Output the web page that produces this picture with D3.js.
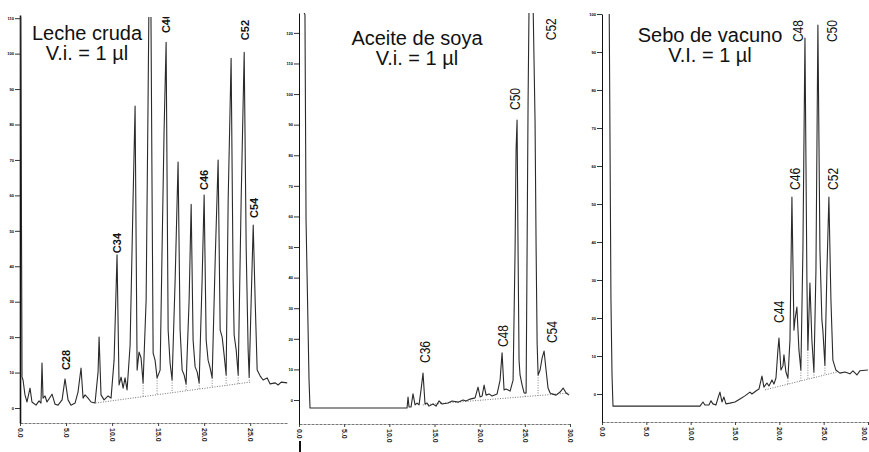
<!DOCTYPE html>
<meta charset="utf-8">
<script src="https://d3js.org/d3.v7.min.js"></script>
<style>
  body { margin: 0; background: #fff; }
  svg { display: block; font-family: "Liberation Sans", Arial, sans-serif; }
</style>
<body>
<div id="chart"></div>
<script>

// ---- data (retention time in min, detector response) ----

// Leche cruda
var lecheTrace = [[0,150],[0.11,89.7],[0.22,8.7],[0.33,7.9],[0.54,3.7],[0.76,1.7],[1.09,5.6],[1.30,1.7],
  [1.74,0.8],[2.07,2.0],[2.28,1.4],[2.39,12.7],[2.50,2.8],[2.72,3.4],[2.93,1.7],[3.48,3.9],[3.80,1.1],
  [4.13,0.8],[4.57,2.3],[4.89,8.2],[5.22,2.3],[5.54,0.8],[5.98,1.4],[6.30,4.5],[6.63,11.3],[6.85,2.8],
  [7.07,3.7],[7.39,2.8],[7.72,1.7],[8.15,1.4],[8.48,10.2],[8.59,20.0],[8.80,3.7],[9.13,2.3],[9.57,3.4],
  [9.89,2.8],[10.22,13.5],[10.54,43.2],[10.76,6.5],[10.98,8.7],[11.20,5.6],[11.41,8.5],[11.63,5.1],
  [11.96,17.8],[12.28,58.7],[12.50,85.2],[12.72,10.7],[12.93,15.8],[13.15,14.1],[13.37,7.1],[13.70,30.5],
  [13.91,86.9],[14.13,150],[14.35,58.7],[14.46,15.5],[14.67,13.5],[14.89,8.5],[15.22,10.7],[15.43,44.6],
  [15.65,78.4],[15.87,103.2],[16.09,22.0],[16.30,12.7],[16.52,7.9],[16.85,36.1],[17.17,69.4],[17.39,22.0],
  [17.61,10.7],[17.83,9.3],[18.04,6.8],[18.37,30.5],[18.59,57.5],[18.80,19.2],[19.02,11.6],[19.24,10.2],
  [19.46,7.1],[19.78,36.1],[20.00,60.1],[20.22,19.2],[20.43,13.5],[20.65,11.3],[20.87,8.5],[21.20,41.7],
  [21.52,70.0],[21.74,22.0],[21.96,20.0],[22.17,15.0],[22.39,9.3],[22.61,58.7],[22.93,98.7],[23.15,36.1],
  [23.26,20.6],[23.48,16.4],[23.70,9.3],[24.02,58.7],[24.35,100.4],[24.57,44.6],[24.78,16.4],[24.89,8.7],
  [25.11,30.5],[25.33,51.6],[25.54,30.5],[25.76,10.7],[26.09,9.0],[26.41,7.9],[26.85,8.5],[27.17,6.8],
  [27.72,7.1],[28.04,6.5],[28.37,7.3],[29.02,7.1]];
var lecheBaseline = [[8.2,1.4],[25.0,7.3]];
var lecheDrops = [13.37,14.89,16.52,18.04,19.46,20.87,22.39,23.70,24.89];
var lechePeakNames = ["C28","C34","C40","C46","C52","C54"];
var lechePeakAt = [[5.0,10.7],[10.6,43.7],[15.9,105.8],[20.0,61.5],[24.4,103.8],[25.38,53.6]];

// Aceite de soya
var soyaTrace = [[0,130],[0.66,126],[0.78,58.8],[1.11,6.5],[1.22,-2.6],[11.96,-2.6],[12.07,1.0],[12.18,-2.3],
  [12.40,-2.3],[12.62,2.0],[12.85,-1.6],[13.07,-1.0],[13.29,-1.6],[13.51,3.3],[13.73,8.8],[13.95,-1.3],
  [14.17,-1.0],[14.39,-2.0],[14.83,-1.3],[15.17,-2.0],[15.50,-0.3],[15.84,-1.3],[16.50,-1.0],[16.94,-0.3],
  [17.61,-0.7],[18.16,0],[18.49,-0.3],[18.94,0.3],[19.49,0.7],[19.82,4.2],[20.04,1.0],[20.27,1.3],
  [20.49,4.9],[20.71,1.6],[21.04,2.0],[21.37,1.3],[21.93,2.0],[22.26,6.5],[22.48,15.4],[22.70,3.3],
  [22.92,3.6],[23.15,3.3],[23.37,2.9],[23.70,6.5],[23.92,49],[24.03,81.7],[24.14,91.5],[24.25,49],
  [24.36,13],[24.47,8.2],[24.70,4.9],[24.92,2.3],[25.14,2.3],[25.25,49],[25.36,98],[25.47,130],
  [25.91,130],[26.13,91.5],[26.25,49],[26.36,18.6],[26.47,8.2],[26.69,9.8],[26.91,13.7],[27.13,16.0],
  [27.35,9.8],[27.57,3.9],[27.80,2.3],[28.02,2.0],[28.46,1.6],[28.90,2.6],[29.24,3.9],[29.57,2.3],[29.90,1.6]];
var soyaBaseline = [[13.7,-1.6],[30.0,2.3]];
var soyaDrops = [25.03,26.47];
var soyaPeakNames = ["C36","C48","C50","C52","C54"];
var soyaPeakAt = [[13.95,12.1],[22.59,17.3],[23.92,94.8],[27.91,117.6],[28.02,18.6]];

// Sebo de vacuno
var seboTrace = [[0,130],[0.79,110],[1.01,24.7],[1.13,5],[1.24,-3.2],[11.05,-3.2],[11.39,-2.1],[11.61,-2.9],
  [12.06,-2.9],[12.29,-1.8],[12.51,-2.6],[12.85,-2.9],[13.08,-1.1],[13.30,0.5],[13.53,-2.1],[13.75,-0.8],
  [13.98,-2.6],[14.43,-2.4],[15.0,-2.1],[15.56,-1.3],[16.12,-0.5],[16.69,0.5],[16.91,0],[17.36,0.8],
  [17.70,1.3],[18.04,4.7],[18.26,1.8],[18.60,2.9],[18.83,2.1],[19.17,3.7],[19.39,2.6],[19.62,4.2],
  [19.84,11.6],[19.96,14.7],[20.18,6.3],[20.41,7.4],[20.52,10.3],[20.74,5.8],[20.97,4.2],[21.20,14.2],
  [21.42,51.8],[21.65,16.8],[21.76,19.5],[21.98,22.9],[22.21,11.6],[22.43,6.3],[22.66,37.9],[22.89,93.7],
  [23.11,30],[23.22,11.6],[23.45,29.2],[23.67,14.2],[23.90,5.8],[24.13,32.6],[24.35,97.1],[24.58,37.9],
  [24.80,19.5],[24.91,16.8],[25.14,7.6],[25.37,32.6],[25.59,51.8],[25.82,24.7],[26.04,8.9],[26.38,6.3],
  [26.83,5.5],[27.40,5.8],[27.96,5.3],[28.30,6.1],[28.75,5.0],[29.08,6.1],[29.99,6.3]];
var seboBaseline = [[18.4,1.1],[26.5,5.8]];
var seboDrops = [20.97,22.43,23.22,23.90,25.14];
var seboPeakNames = ["C44","C46","C48","C50","C52"];
var seboPeakAt = [[19.95,18.7],[21.76,53.7],[22.10,92.6],[25.93,92.6],[26.04,53.7]];

var xTicks1 = [0,5,10,15,20,25];
var xTicks23 = [0,5,10,15,20,25,30];

// ---- layout ----
var panels = [
  {trace: lecheTrace, base: lecheBaseline, drops: lecheDrops, names: lechePeakNames, at: lechePeakAt,
   left: 20, right: 287, top: 15, bottom: 423, tmax: 29, vmin: -4.23, vmax: 110.9,
   xticks: xTicks1, yticks: d3.range(0, 111, 10),
   title: ["Leche cruda", "V.i. = 1 µl"], tx: 87, ty: [40, 60], bold: true},
  {trace: soyaTrace, base: soyaBaseline, drops: soyaDrops, names: soyaPeakNames, at: soyaPeakAt,
   left: 299, right: 570, top: 13, bottom: 424, tmax: 30, vmin: -7.84, vmax: 126.5,
   xticks: xTicks23, yticks: d3.range(0, 121, 10),
   title: ["Aceite de soya", "V.i. = 1 µl"], tx: 417, ty: [45, 65], bold: false},
  {trace: seboTrace, base: seboBaseline, drops: seboDrops, names: seboPeakNames, at: seboPeakAt,
   left: 602, right: 868, top: 14, bottom: 422, tmax: 30, vmin: -7.37, vmax: 100,
   xticks: xTicks23, yticks: d3.range(0, 101, 10),
   title: ["Sebo de vacuno", "V.I. = 1 µl"], tx: 710, ty: [42, 62], bold: false}
];

var svg = d3.select("#chart").append("svg")
  .attr("width", 869)
  .attr("height", 452);

var defs = svg.append("defs");
var grad = defs.append("linearGradient").attr("id", "topfade");
grad.append("stop").attr("offset", "0%").attr("stop-color", "#d8d8d8");
grad.append("stop").attr("offset", "100%").attr("stop-color", "#222");

var bisect = d3.bisector(function(d) { return d[0]; }).left;
function valueAt(trace, t) {
  var i = bisect(trace, t);
  if (i <= 0) return trace[0][1];
  if (i >= trace.length) return trace[trace.length - 1][1];
  var a = trace[i - 1], b = trace[i];
  return a[1] + (b[1] - a[1]) * (t - a[0]) / (b[0] - a[0]);
}

panels.forEach(function(p, k) {
  var x = d3.scaleLinear().domain([0, p.tmax]).range([p.left, p.right]);
  var y = d3.scaleLinear().domain([p.vmin, p.vmax]).range([p.bottom, p.top]);
  var g = svg.append("g");

  defs.append("clipPath").attr("id", "clip" + k)
    .append("rect")
    .attr("x", p.left).attr("y", p.top + (k == 0 ? 2 : 0))
    .attr("width", p.right - p.left + 2).attr("height", p.bottom - p.top);

  // x axis
  var xa = g.append("g")
    .attr("transform", "translate(0," + p.bottom + ")")
    .call(d3.axisBottom(x).tickValues(p.xticks).tickSize(3).tickSizeOuter(0).tickFormat(d3.format(".1f")));
  xa.select(".domain").attr("stroke", "#777").attr("stroke-width", 1.2).attr("stroke-dasharray", "3,1");
  xa.selectAll(".tick line").attr("stroke", "#444");
  xa.selectAll("text")
    .attr("transform", "rotate(90)")
    .attr("text-anchor", "start")
    .attr("x", 5)
    .attr("y", function(d) { return x(d) > 864 ? 4 : 0; })   // keep the last label inside the page
    .attr("dy", "0.35em")
    .style("font-size", "7px").style("font-weight", "bold").attr("fill", "#222");

  // y axis
  var ya = g.append("g")
    .attr("transform", "translate(" + p.left + ",0)")
    .call(d3.axisLeft(y).tickValues(p.yticks).tickSize(5).tickSizeOuter(0));
  ya.select(".domain").attr("stroke", "#111").attr("stroke-width", k == 0 ? 1.6 : 1);
  ya.selectAll(".tick line").attr("stroke", "#333");
  ya.selectAll("text").style("font-size", "4px").style("font-weight", "bold").attr("x", -6);

  // integration baseline and drop lines
  g.append("line")
    .attr("x1", x(p.base[0][0])).attr("y1", y(p.base[0][1]))
    .attr("x2", x(p.base[1][0])).attr("y2", y(p.base[1][1]))
    .attr("stroke", "#666").attr("stroke-width", 0.9).attr("stroke-dasharray", "1,1.5");
  var bl = d3.scaleLinear().domain([p.base[0][0], p.base[1][0]]).range([p.base[0][1], p.base[1][1]]);
  g.selectAll(".drop").data(p.drops).enter().append("line")
    .attr("x1", function(t) { return x(t); })
    .attr("x2", function(t) { return x(t); })
    .attr("y1", function(t) { return y(valueAt(p.trace, t)); })
    .attr("y2", function(t) { return y(bl(t)); })
    .attr("stroke", "#666").attr("stroke-width", 0.8).attr("stroke-dasharray", "1,1.5");

  // chromatogram trace
  g.append("path")
    .datum(p.trace)
    .attr("clip-path", "url(#clip" + k + ")")
    .attr("fill", "none")
    .attr("stroke", "#2a2a2a")
    .attr("stroke-width", 1.1)
    .attr("stroke-linejoin", "round")
    .attr("d", d3.line().x(function(d) { return x(d[0]); }).y(function(d) { return y(d[1]); }));

  // peak names
  var lab = g.append("g").attr("clip-path", k == 0 ? "url(#clip0)" : null);
  lab.selectAll(".pk").data(p.names).enter().append("text")
    .attr("transform", function(d, i) {
      var s = "translate(" + x(p.at[i][0]) + "," + y(p.at[i][1]) + ") rotate(-90)";
      return p.bold ? s : s + " scale(0.8,1)";
    })
    .attr("dy", "0.35em")
    .style("font-size", p.bold ? "11px" : "15px")
    .style("font-weight", p.bold ? "bold" : "normal")
    .attr("fill", "#111")
    .text(function(d) { return d; });

  // title
  g.selectAll(".ttl").data(p.title).enter().append("text")
    .attr("x", p.tx)
    .attr("y", function(d, i) { return p.ty[i]; })
    .attr("text-anchor", "middle")
    .style("font-size", "20px")
    .attr("fill", "#111")
    .text(function(d) { return d; });
});

// top border of the first panel
svg.append("line")
  .attr("x1", 20).attr("x2", 287).attr("y1", 15).attr("y2", 15)
  .attr("stroke", "url(#topfade)").attr("stroke-width", 2);

// stray mark under the middle panel
svg.append("line")
  .attr("x1", 300).attr("x2", 300).attr("y1", 441).attr("y2", 452)
  .attr("stroke", "#111").attr("stroke-width", 2);

</script>
</body>
